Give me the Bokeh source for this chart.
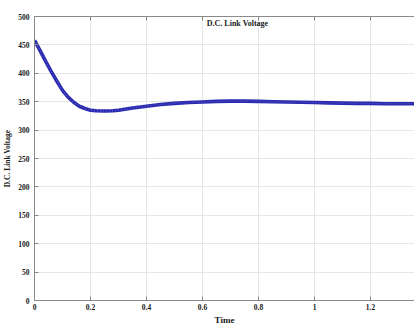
from bokeh.plotting import figure
from bokeh.models import Range1d, LinearAxis, FixedTicker, Label
from bokeh.embed import file_html
from bokeh.resources import INLINE

# data
time = [0.0, 0.02, 0.04, 0.06, 0.08, 0.10, 0.12, 0.14, 0.16, 0.18, 0.20, 0.22,
        0.25, 0.28, 0.30, 0.35, 0.40, 0.45, 0.50, 0.55, 0.60, 0.65, 0.70, 0.75,
        0.80, 0.85, 0.90, 0.95, 1.00, 1.05, 1.10, 1.15, 1.20, 1.25, 1.30, 1.36]
voltage = [458, 440, 421, 403, 386, 370, 358, 349, 342, 338, 335, 334,
           333.5, 334, 335, 339, 342, 345, 347, 348.5, 349.5, 350.5, 351, 351,
           350.5, 350, 349.5, 349, 348.5, 348, 347.5, 347, 347, 346.5, 346.5, 346.5]
x_ticks = [0, 0.2, 0.4, 0.6, 0.8, 1.0, 1.2]
x_tick_labels = ["0", "0.2", "0.4", "0.6", "0.8", "1", "1.2"]
y_ticks = [0, 50, 100, 150, 200, 250, 300, 350, 400, 450, 500]
y_tick_labels = [str(v) for v in y_ticks]
title_text = "D.C. Link Voltage"
x_label = "Time"
y_label = "D.C. Link Voltage"

FONT = "Liberation Serif"

p = figure(width=414, height=327, output_backend="svg", toolbar_location=None,
           x_range=Range1d(0, 1.357), y_range=Range1d(0, 500),
           min_border_left=34, min_border_right=0, min_border_top=16,
           min_border_bottom=21)
p.outline_line_color = None
p.background_fill_color = "white"
p.border_fill_color = "white"

p.line(time, voltage, line_color="#2a2aae", line_width=3.6)
p.line(time, voltage, line_color="#5a5ad0", line_width=1.2, line_dash="1 2")

for ax in (p.xaxis[0], p.yaxis[0]):
    ax.major_label_text_font = FONT
    ax.major_label_text_font_style = "bold"
    ax.major_label_text_font_size = "7.5px"
    ax.major_label_text_color = "#1a1a1a"
    ax.axis_label_text_font = FONT
    ax.axis_label_text_font_style = "bold"
    ax.axis_label_text_font_size = "9px"
    ax.axis_label_text_color = "#1a1a1a"
    ax.axis_line_color = "#8a8a8a"
    ax.major_tick_line_color = "#8a8a8a"
    ax.major_tick_in = 4
    ax.major_tick_out = 0
    ax.minor_tick_line_color = None

p.xaxis[0].ticker = FixedTicker(ticks=x_ticks)
p.xaxis[0].major_label_overrides = dict(zip(x_ticks, x_tick_labels))
p.xaxis[0].axis_label = x_label
p.xaxis[0].major_label_standoff = 3
p.xaxis[0].axis_label_standoff = 2

p.yaxis[0].ticker = FixedTicker(ticks=y_ticks)
p.yaxis[0].major_label_overrides = dict(zip(y_ticks, y_tick_labels))
p.yaxis[0].axis_label = y_label
p.yaxis[0].axis_label_text_font_size = "7.5px"
p.yaxis[0].major_label_standoff = 5
p.yaxis[0].axis_label_standoff = 3

top = LinearAxis(ticker=FixedTicker(ticks=x_ticks))
top.major_label_text_color = None
top.major_label_text_font_size = "1px"
top.major_label_standoff = 0
top.axis_line_color = "#8a8a8a"
top.major_tick_line_color = "#8a8a8a"
top.major_tick_in = 4
top.major_tick_out = 0
top.minor_tick_line_color = None
p.add_layout(top, "above")

p.xgrid.ticker = FixedTicker(ticks=x_ticks)
p.ygrid.ticker = FixedTicker(ticks=y_ticks)
p.grid.grid_line_color = "#e6e6e6"
p.grid.grid_line_width = 1

p.add_layout(Label(x=0.725, y=487, text=title_text, text_font=FONT,
                   text_font_style="bold", text_font_size="8px",
                   text_align="center", text_baseline="middle",
                   text_color="#1a1a1a"))

open("out.html", "w").write(file_html(p, INLINE))
